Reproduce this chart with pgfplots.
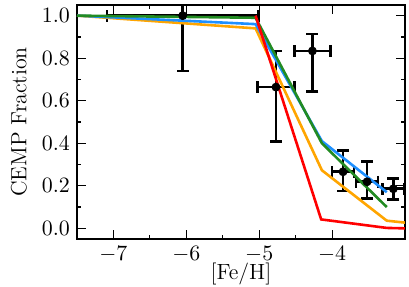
\documentclass[border=0pt]{standalone}
\usepackage{pgfplots}
\pgfplotsset{compat=1.18}
\definecolor{cblue}{RGB}{30,144,255}
\definecolor{cgreen}{RGB}{34,139,34}
\definecolor{corange}{RGB}{255,165,0}
\definecolor{cred}{RGB}{255,0,0}
\begin{document}
\begin{tikzpicture}[font=\fontsize{11}{13}\selectfont]
\useasboundingbox (-38.5pt,-24pt) rectangle (166pt,119.5pt);
\begin{axis}[
  at={(0,0)}, anchor=south west,
  scale only axis, width=164pt, height=117pt,
  xmin=-7.5, xmax=-3, ymin=-0.05, ymax=1.05,
  xtick={-7,-6,-5,-4}, minor x tick num=1,
  ytick={0,0.2,0.4,0.6,0.8,1.0}, minor y tick num=1,
  tick align=inside,
  tick label style={font=\fontsize{11}{13}\selectfont},
  label style={font=\fontsize{11}{13}\selectfont},
  yticklabel style={/pgf/number format/fixed, /pgf/number format/fixed zerofill, /pgf/number format/precision=1},
  xlabel={[Fe/H]}, ylabel={CEMP Fraction},
  ylabel style={at={(axis description cs:-0.177,0.5)}, anchor=center},
  xlabel style={at={(axis description cs:0.5,-0.15)}, anchor=center},
  major tick length=4.3pt, minor tick length=2.2pt,
  axis line style={line width=0.75pt},
  every tick/.style={black, line width=0.6pt},
  clip=true,
]
\addplot[black, only marks, mark=*, mark size=2pt,
  error bars/.cd, x dir=both, x explicit, y dir=both, y explicit,
  error mark=-,
  error bar style={line width=1.3pt, black},
  error mark options={rotate=90, mark size=3pt, line width=1.3pt, black}]
coordinates {
  (-6.05,1.0) += (1.04,0.26) -= (1.04,0.26)
  (-4.77,0.664) += (0.25,0.17) -= (0.25,0.255)
  (-4.27,0.834) += (0.25,0.08) -= (0.25,0.19)
  (-3.85,0.266) += (0.15,0.10) -= (0.15,0.09)
  (-3.52,0.219) += (0.15,0.095) -= (0.15,0.078)
  (-3.16,0.186) += (0.15,0.047) -= (0.15,0.05)
};
\addplot[corange, line width=1.3pt] coordinates {(-7.5,1.0) (-5.05,0.94) (-4.14,0.273) (-3.25,0.036) (-3.0,0.027)};
\addplot[cblue, line width=1.3pt] coordinates {(-7.5,1.0) (-5.05,0.96) (-4.14,0.41) (-3.25,0.17)};
\addplot[cgreen, line width=1.3pt] coordinates {(-7.5,1.0) (-5.05,0.99) (-4.14,0.40) (-3.25,0.10)};
\addplot[cred, line width=1.3pt] coordinates {(-5.05,1.0) (-4.15,0.042) (-3.25,0.002) (-3.0,0.0)};
\end{axis}
\end{tikzpicture}
\end{document}
